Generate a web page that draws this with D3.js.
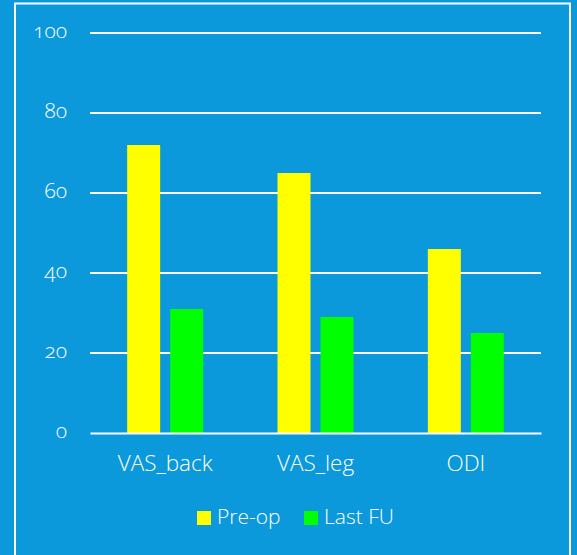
<!DOCTYPE html>
<html><head><meta charset="utf-8">
<script src="https://cdn.jsdelivr.net/npm/d3@7"></script>
<style>body{margin:0;background:#0b99db;} svg{display:block;}</style>
</head><body>
<script>
const categories = ["VAS_back", "VAS_leg", "ODI"];
const seriesNames = ["Pre-op", "Last FU"];
const preOp = [72, 65, 46];
const lastFU = [31, 29, 25];
const yTicks = [0, 20, 40, 60, 80, 100];
const colors = ["#ffff00", "#00ff00"];

const W = 577, H = 555;
const font = "'Open Sans', sans-serif";
const svg = d3.select("body").append("svg").attr("width", W).attr("height", H);
svg.append("rect").attr("width", W).attr("height", H).attr("fill", "#0b99db");
svg.append("rect").attr("x", 15).attr("y", 3.5).attr("width", 555).attr("height", 560)
  .attr("fill", "none").attr("stroke", "#fff").attr("stroke-width", 2);

const x0 = d3.scaleBand().domain(categories).range([90, 541]).paddingInner(0).paddingOuter(0);
const y = d3.scaleLinear().domain([0, 100]).range([433, 33]);
const x1 = d3.scaleBand().domain(seriesNames).range([0, 76]).paddingInner(10/43);

// gridlines
svg.append("g").selectAll("line").data(yTicks.filter(d => d > 0)).join("line")
  .attr("x1", 90).attr("x2", 541).attr("y1", d => y(d)).attr("y2", d => y(d))
  .attr("stroke", "#fff").attr("stroke-width", 2);

const yAxis = d3.axisLeft(y).tickValues(yTicks).tickSize(0).tickPadding(23);
svg.append("g").attr("transform", "translate(90,0)").call(yAxis)
  .call(g => g.select(".domain").remove())
  .selectAll("text").attr("fill", "#fff").attr("font-family", font).attr("font-size", 21)
  .attr("font-weight", 300).attr("dy", "0.22em")
  .style("font-variant-numeric", "oldstyle-nums");

const data = categories.map((c, i) => ({cat: c, vals: [preOp[i], lastFU[i]]}));
const groups = svg.append("g").selectAll("g").data(data).join("g")
  .attr("transform", d => `translate(${x0(d.cat) + (x0.bandwidth() - 76) / 2},0)`);
groups.selectAll("rect").data(d => d.vals.map((v, j) => ({name: seriesNames[j], v, j}))).join("rect")
  .attr("x", d => x1(d.name)).attr("width", x1.bandwidth())
  .attr("y", d => y(d.v)).attr("height", d => y(0) - y(d.v))
  .attr("fill", d => colors[d.j]);

const xAxis = d3.axisBottom(x0).tickSize(0).tickPadding(22);
svg.append("g").attr("transform", `translate(0,${y(0)})`).call(xAxis)
  .call(g => g.select(".domain").attr("stroke", "#fff").attr("stroke-width", 2))
  .selectAll("text").attr("fill", "#fff").attr("font-family", font).attr("font-size", 22.5)
  .attr("font-weight", 300);

// legend
const legend = svg.append("g");
const legX = [197, 304];
seriesNames.forEach((s, i) => {
  legend.append("rect").attr("x", legX[i]).attr("y", 511).attr("width", 14).attr("height", 14).attr("fill", colors[i]);
  legend.append("text").attr("x", legX[i] + 20).attr("y", 524).attr("fill", "#fff")
    .attr("font-family", font).attr("font-size", 21).attr("font-weight", 300).text(s);
});
</script>
</body></html>
